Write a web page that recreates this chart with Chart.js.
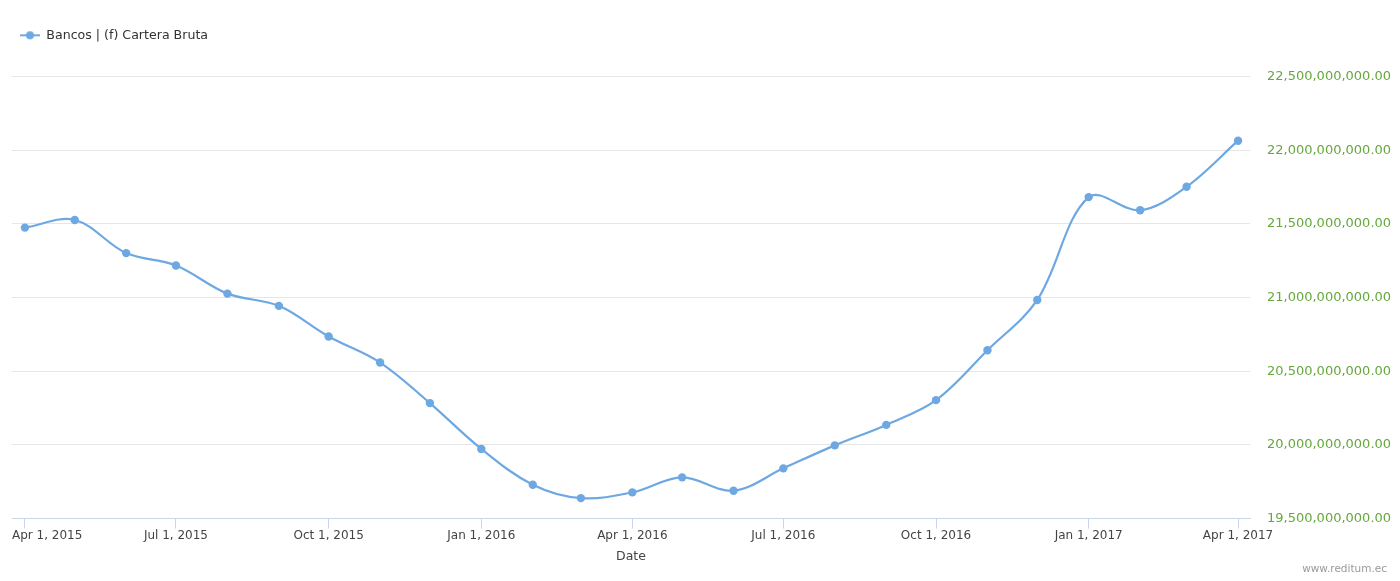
<!DOCTYPE html>
<html>
<head>
<meta charset="utf-8">
<script src="https://cdn.jsdelivr.net/npm/chart.js@4/dist/chart.umd.min.js"></script>
<style>
  body { margin: 0; background: #fff; }
  #wrap { position: relative; width: 1400px; height: 581px; }
  #credit { position: absolute; right: 13px; top: 562px; font: 10.5px "DejaVu Sans", sans-serif; color: #999; }
</style>
</head>
<body>
<div id="wrap">
  <canvas id="carteraChart"></canvas>
  <div id="credit">www.reditum.ec</div>
</div>
<script>
  // monthly data points (first of month)
  const months = ['2015-04-01', '2015-05-01', '2015-06-01', '2015-07-01', '2015-08-01', '2015-09-01',
    '2015-10-01', '2015-11-01', '2015-12-01', '2016-01-01', '2016-02-01', '2016-03-01',
    '2016-04-01', '2016-05-01', '2016-06-01', '2016-07-01', '2016-08-01', '2016-09-01',
    '2016-10-01', '2016-11-01', '2016-12-01', '2017-01-01', '2017-02-01', '2017-03-01', '2017-04-01'];
  const carteraBruta = [21.475e9, 21.527e9, 21.302e9, 21.218e9, 21.027e9, 20.944e9,
    20.736e9, 20.559e9, 20.284e9, 19.973e9, 19.730e9, 19.639e9,
    19.678e9, 19.780e9, 19.689e9, 19.841e9, 19.997e9, 20.136e9,
    20.304e9, 20.643e9, 20.984e9, 21.682e9, 21.593e9, 21.752e9, 22.065e9];
  const tickDates = ['2015-04-01', '2015-07-01', '2015-10-01', '2016-01-01',
    '2016-04-01', '2016-07-01', '2016-10-01', '2017-01-01', '2017-04-01'];
  const yTicks = [19.5e9, 20e9, 20.5e9, 21e9, 21.5e9, 22e9, 22.5e9];
  const seriesName = 'Bancos | (f) Cartera Bruta';

  const DAY = 864e5;
  const monthNames = ['Jan', 'Feb', 'Mar', 'Apr', 'May', 'Jun', 'Jul', 'Aug', 'Sep', 'Oct', 'Nov', 'Dec'];
  const toTime = s => { const p = s.split('-'); return Date.UTC(+p[0], +p[1] - 1, +p[2]); };
  const fmtDate = t => { const d = new Date(t); return monthNames[d.getUTCMonth()] + ' ' + d.getUTCDate() + ', ' + d.getUTCFullYear(); };

  const lineColor = '#6ea8e2';
  const font = '"DejaVu Sans", Verdana, sans-serif';

  // legend marker: short line with a dot
  const marker = document.createElement('canvas');
  marker.width = 20; marker.height = 10;
  (function () {
    const c = marker.getContext('2d');
    c.strokeStyle = lineColor; c.lineWidth = 2;
    c.beginPath(); c.moveTo(0, 5); c.lineTo(20, 5); c.stroke();
    c.fillStyle = lineColor;
    c.beginPath(); c.arc(10, 5, 4, 0, Math.PI * 2); c.fill();
  })();

  const legendSpace = {
    id: 'legendSpace',
    beforeInit(chart) {
      const fit = chart.legend.fit;
      chart.legend.fit = function () { fit.call(this); this.height += 25; };
    },
    beforeDraw(chart) {
      // keep first date label inside the plot like the original
      const items = chart.scales.x.getLabelItems();
      if (items.length) {
        items[0].options.textAlign = 'left';
        items[0].options.translation[0] = chart.chartArea.left;
      }
    }
  };

  const ctx = document.getElementById('carteraChart').getContext('2d');
  const carteraChart = new Chart(ctx, {
    type: 'line',
    data: {
      datasets: [{
        label: seriesName,
        data: months.map((m, i) => ({ x: toTime(m), y: carteraBruta[i] })),
        borderColor: lineColor,
        backgroundColor: lineColor,
        borderWidth: 2.2,
        pointRadius: 4.2,
        pointBorderWidth: 0,
        pointBackgroundColor: lineColor,
        tension: 0.35,
        fill: false
      }]
    },
    options: {
      responsive: true,
      maintainAspectRatio: false,
      animation: false,
      layout: { padding: { top: 21, left: 12, right: 0, bottom: 13 } },
      plugins: {
        legend: {
          align: 'start',
          labels: {
            usePointStyle: true,
            pointStyleWidth: 20,
            padding: 8,
            color: '#333',
            font: { family: font, size: 12.6 },
            generateLabels: chart => [{
              text: seriesName, pointStyle: marker, fontColor: '#333',
              strokeStyle: lineColor, fillStyle: lineColor, lineWidth: 0, datasetIndex: 0, hidden: false
            }]
          }
        },
        tooltip: { enabled: false }
      },
      scales: {
        x: {
          type: 'linear',
          min: toTime('2015-04-01') - 7.8 * DAY,
          max: toTime('2017-04-01') + 7.2 * DAY,
          afterBuildTicks: scale => { scale.ticks = tickDates.map(d => ({ value: toTime(d) })); },
          afterFit: scale => { scale.paddingLeft = 0; scale.paddingRight = 0; },
          grid: { drawOnChartArea: false, tickLength: 10, color: '#ccd6eb' },
          border: { color: '#ccd6eb' },
          ticks: {
            autoSkip: false, maxRotation: 0, padding: 0,
            color: '#444', font: { family: font, size: 12 },
            callback: v => fmtDate(v)
          },
          title: { display: true, text: 'Date', color: '#444', font: { family: font, size: 12.5 }, padding: { top: 6, bottom: 4 } }
        },
        y: {
          position: 'right',
          min: 19.5e9,
          max: 22.5e9,
          afterBuildTicks: scale => { scale.ticks = yTicks.map(v => ({ value: v })); },
          afterFit: scale => { scale.width = 150; },
          grid: { color: '#e6e6e6', drawTicks: false },
          border: { display: false },
          ticks: {
            padding: 17,
            color: '#64a83c',
            font: { family: font, size: 13 },
            callback: v => Number(v).toLocaleString('en-US', { minimumFractionDigits: 2, maximumFractionDigits: 2 })
          }
        }
      }
    },
    plugins: [legendSpace]
  });
</script>
</body>
</html>
